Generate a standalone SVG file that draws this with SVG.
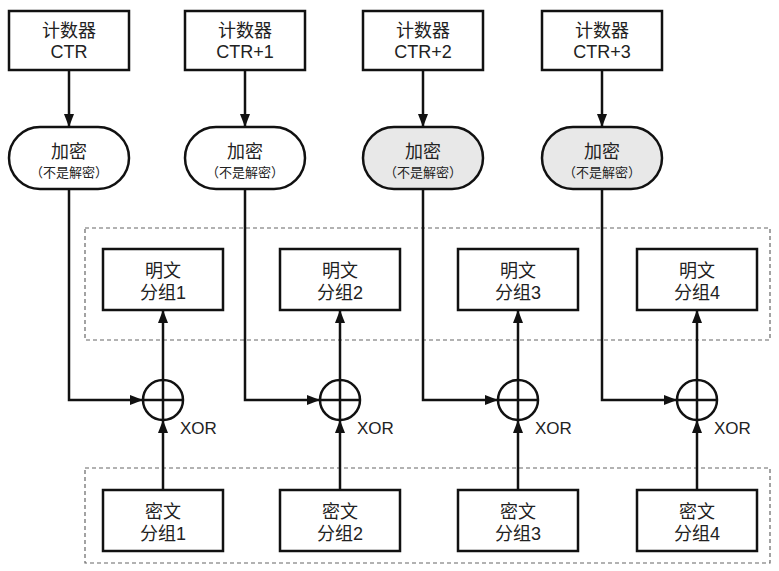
<svg xmlns="http://www.w3.org/2000/svg" width="779" height="571" viewBox="0 0 779 571">
<style>
.box{fill:#fff;stroke:#111;stroke-width:2.5}
.ovw{fill:#fff;stroke:#111;stroke-width:2.5}
.ovg{fill:#e8e8e8;stroke:#111;stroke-width:2.5}
.dash{fill:none;stroke:#666;stroke-width:1.2;stroke-dasharray:4 3}
.ln{fill:none;stroke:#111;stroke-width:2.5}
.arr{fill:none;stroke:#111;stroke-width:2.5;marker-end:url(#ah)}
.xc{fill:#fff;stroke:#111;stroke-width:2.5}
text{font-family:"Liberation Sans","Noto Sans CJK SC",sans-serif;fill:#222;text-anchor:middle}
.t{font-size:18px}
.s{font-size:13px}
.x{font-size:17px;text-anchor:start}
</style>
<defs>
<marker id="ah" markerWidth="13" markerHeight="10" refX="12" refY="5" orient="auto" markerUnits="userSpaceOnUse">
<path d="M0,0 L13,5 L0,10 Z" fill="#111"/>
</marker>
</defs>
<rect class="dash" x="85" y="228" width="685" height="112"/>
<rect class="dash" x="85" y="468" width="685" height="95"/>
<g id="connectors">
<line class="arr" x1="69" y1="70" x2="69" y2="126"/>
<line class="arr" x1="245" y1="70" x2="245" y2="126"/>
<line class="arr" x1="423" y1="70" x2="423" y2="126"/>
<line class="arr" x1="602" y1="70" x2="602" y2="126"/>
<polyline class="arr" points="69,189 69,400 142,400"/>
<polyline class="arr" points="245,189 245,400 319,400"/>
<polyline class="arr" points="423,189 423,400 497,400"/>
<polyline class="arr" points="602,189 602,400 676,400"/>
<line class="arr" x1="163" y1="380" x2="163" y2="311"/>
<line class="arr" x1="340" y1="380" x2="340" y2="311"/>
<line class="arr" x1="518" y1="380" x2="518" y2="311"/>
<line class="arr" x1="697" y1="380" x2="697" y2="311"/>
<line class="arr" x1="163" y1="490" x2="163" y2="421"/>
<line class="arr" x1="340" y1="490" x2="340" y2="421"/>
<line class="arr" x1="518" y1="490" x2="518" y2="421"/>
<line class="arr" x1="697" y1="490" x2="697" y2="421"/>
</g>
<g id="ctr0"><rect class="box" x="9" y="11" width="120" height="59"/><text class="t" x="69" y="37">计数器</text><text class="t" x="69" y="58">CTR</text></g>
<g id="ctr1"><rect class="box" x="185" y="11" width="120" height="59"/><text class="t" x="245" y="37">计数器</text><text class="t" x="245" y="58">CTR+1</text></g>
<g id="ctr2"><rect class="box" x="363" y="11" width="120" height="59"/><text class="t" x="423" y="37">计数器</text><text class="t" x="423" y="58">CTR+2</text></g>
<g id="ctr3"><rect class="box" x="542" y="11" width="120" height="59"/><text class="t" x="602" y="37">计数器</text><text class="t" x="602" y="58">CTR+3</text></g>
<g id="enc0"><rect class="ovw" x="9" y="127" width="120" height="62" rx="31"/><text class="t" x="69" y="158">加密</text><text class="s" x="69" y="177">（不是解密）</text></g>
<g id="enc1"><rect class="ovw" x="185" y="127" width="120" height="62" rx="31"/><text class="t" x="245" y="158">加密</text><text class="s" x="245" y="177">（不是解密）</text></g>
<g id="enc2"><rect class="ovg" x="363" y="127" width="120" height="62" rx="31"/><text class="t" x="423" y="158">加密</text><text class="s" x="423" y="177">（不是解密）</text></g>
<g id="enc3"><rect class="ovg" x="542" y="127" width="120" height="62" rx="31"/><text class="t" x="602" y="158">加密</text><text class="s" x="602" y="177">（不是解密）</text></g>
<g id="p1"><rect class="box" x="103" y="249" width="120" height="61"/><text class="t" x="163" y="277">明文</text><text class="t" x="163" y="299">分组1</text></g>
<g id="p2"><rect class="box" x="280" y="249" width="120" height="61"/><text class="t" x="340" y="277">明文</text><text class="t" x="340" y="299">分组2</text></g>
<g id="p3"><rect class="box" x="458" y="249" width="120" height="61"/><text class="t" x="518" y="277">明文</text><text class="t" x="518" y="299">分组3</text></g>
<g id="p4"><rect class="box" x="637" y="249" width="120" height="61"/><text class="t" x="697" y="277">明文</text><text class="t" x="697" y="299">分组4</text></g>
<g id="x1"><circle class="xc" cx="163" cy="400" r="20"/><path class="ln" d="M143,400H183M163,380V420"/><text class="x" x="180" y="434">XOR</text></g>
<g id="x2"><circle class="xc" cx="340" cy="400" r="20"/><path class="ln" d="M320,400H360M340,380V420"/><text class="x" x="357" y="434">XOR</text></g>
<g id="x3"><circle class="xc" cx="518" cy="400" r="20"/><path class="ln" d="M498,400H538M518,380V420"/><text class="x" x="535" y="434">XOR</text></g>
<g id="x4"><circle class="xc" cx="697" cy="400" r="20"/><path class="ln" d="M677,400H717M697,380V420"/><text class="x" x="714" y="434">XOR</text></g>
<g id="c1"><rect class="box" x="103" y="490" width="120" height="61"/><text class="t" x="163" y="518">密文</text><text class="t" x="163" y="540">分组1</text></g>
<g id="c2"><rect class="box" x="280" y="490" width="120" height="61"/><text class="t" x="340" y="518">密文</text><text class="t" x="340" y="540">分组2</text></g>
<g id="c3"><rect class="box" x="458" y="490" width="120" height="61"/><text class="t" x="518" y="518">密文</text><text class="t" x="518" y="540">分组3</text></g>
<g id="c4"><rect class="box" x="637" y="490" width="120" height="61"/><text class="t" x="697" y="518">密文</text><text class="t" x="697" y="540">分组4</text></g>
</svg>
